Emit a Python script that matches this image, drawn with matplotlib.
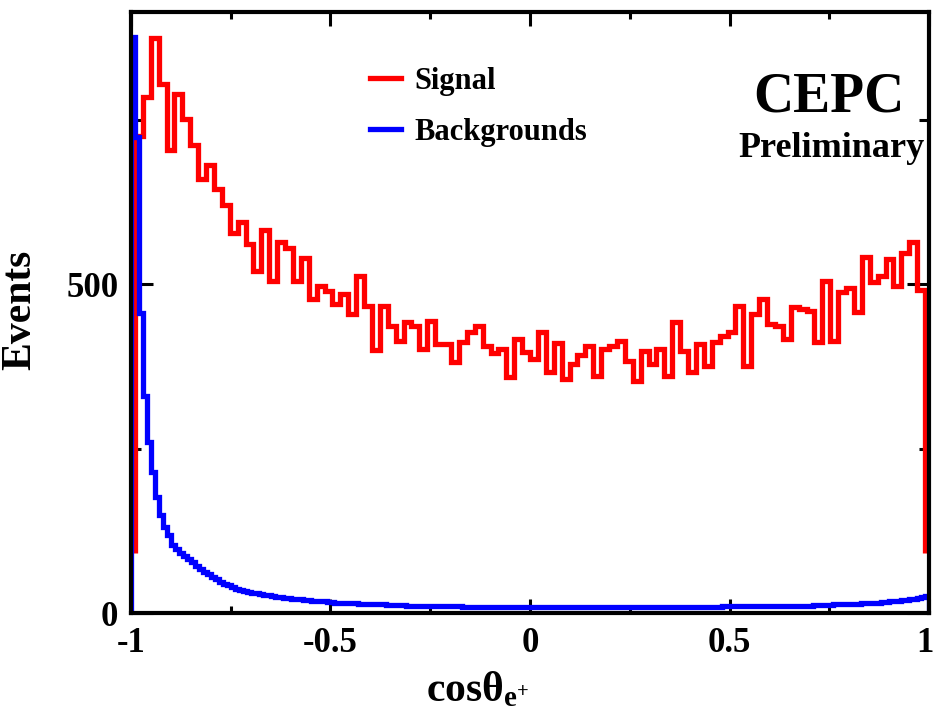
import matplotlib

matplotlib.use("Agg")
import matplotlib.pyplot as plt
import matplotlib.transforms as mtransforms
import numpy as np
from matplotlib.lines import Line2D
from matplotlib.ticker import MultipleLocator

plt.rcParams["font.family"] = ["Liberation Serif", "DejaVu Serif"]
plt.rcParams["font.weight"] = "bold"
plt.rcParams["mathtext.fontset"] = "custom"
plt.rcParams["mathtext.rm"] = "Liberation Serif:bold"
plt.rcParams["mathtext.it"] = "Liberation Serif:bold"
plt.rcParams["mathtext.bf"] = "Liberation Serif:bold"

# signal: 100 bins over [-0.99, 0.99]
SIGNAL_RANGE = (-0.99, 0.99)
SIGNAL_EDGE_FLOOR = 92
signal_counts = [
    725, 785, 875, 805, 705, 790, 752, 712, 660, 682,
    645, 620, 578, 595, 562, 520, 582, 505, 565, 555,
    505, 540, 478, 498, 490, 470, 485, 455, 512, 467,
    400, 467, 436, 414, 442, 437, 402, 444, 409, 409,
    382, 412, 427, 436, 406, 395, 402, 359, 417, 397,
    386, 427, 367, 410, 356, 379, 392, 406, 361, 402,
    406, 414, 384, 353, 398, 379, 402, 361, 442, 398,
    367, 409, 376, 412, 421, 427, 467, 376, 455, 477,
    439, 436, 417, 465, 462, 459, 412, 505, 414, 488,
    495, 458, 541, 503, 512, 538, 497, 548, 564, 492,
]

# backgrounds: 200 bins over [-1, 1]
BKG_RANGE = (-1.0, 1.0)
bkg_counts = [
    876, 724, 457, 330, 260, 215, 177, 149, 131, 118,
    104, 98, 92, 87, 82, 77, 72, 67, 63, 59,
    55, 51, 47, 44, 42, 40, 37, 35, 34, 32,
    31, 30, 29, 28, 27, 26, 25, 24, 23, 23,
    22, 21, 21, 20, 20, 19, 19, 18, 18, 17,
    17, 16, 16, 16, 15, 15, 15, 14, 14, 14,
    13, 13, 13, 13, 12, 12, 12, 12, 12, 11,
    11, 11, 11, 11, 11, 10, 10, 10, 10, 10,
    10, 10, 10, 9, 9, 9, 9, 9, 9, 9,
    9, 9, 9, 9, 9, 9, 9, 9, 9, 9,
    9, 9, 9, 9, 9, 9, 9, 9, 9, 9,
    9, 9, 9, 9, 9, 9, 9, 9, 9, 9,
    9, 9, 9, 9, 9, 9, 9, 9, 9, 9,
    9, 9, 9, 9, 9, 9, 9, 9, 9, 9,
    9, 9, 9, 9, 9, 9, 9, 9, 10, 10,
    10, 10, 10, 10, 10, 10, 10, 10, 10, 10,
    10, 10, 10, 10, 10, 11, 11, 11, 11, 11,
    11, 12, 12, 12, 12, 12, 13, 13, 13, 13,
    14, 14, 14, 15, 15, 15, 16, 16, 17, 17,
    18, 18, 19, 20, 20, 21, 22, 23, 24, 26,
]

X_MAJOR_TICKS = [-1, -0.5, 0, 0.5, 1]
X_TICK_LABELS = ["-1", "-0.5", "0", "0.5", "1"]
Y_MAJOR_TICKS = [0, 500]
Y_LIMIT = 915

fig = plt.figure(figsize=(9.35, 7.11), dpi=100)
ax = fig.add_axes([0.1401, 0.1378, 0.8535, 0.846])

sig_edges = np.linspace(SIGNAL_RANGE[0], SIGNAL_RANGE[1], len(signal_counts) + 1)
bkg_edges = np.linspace(BKG_RANGE[0], BKG_RANGE[1], len(bkg_counts) + 1)

ax.stairs(signal_counts, sig_edges, baseline=SIGNAL_EDGE_FLOOR,
          color="#ff0000", linewidth=3.8, zorder=2)
ax.stairs(bkg_counts, bkg_edges, baseline=0,
          color="#0000ff", linewidth=3.8, zorder=3)

ax.set_xlim(-1, 1)
ax.set_ylim(0, Y_LIMIT)

for side in ax.spines.values():
    side.set_linewidth(3.0)
    side.set_zorder(5)

ax.set_xticks(X_MAJOR_TICKS)
ax.set_xticklabels(X_TICK_LABELS)
ax.xaxis.set_minor_locator(MultipleLocator(0.25))
ax.set_yticks(Y_MAJOR_TICKS)
ax.set_yticklabels([str(v) for v in Y_MAJOR_TICKS])
ax.yaxis.set_minor_locator(MultipleLocator(250))

ax.tick_params(axis="both", which="both", direction="in", top=True, right=True,
               width=2.2, labelsize=25)
ax.tick_params(axis="x", which="major", length=10, pad=10)
ax.tick_params(axis="x", which="minor", length=5)
ax.tick_params(axis="y", which="major", length=16, pad=9)
ax.tick_params(axis="y", which="minor", length=7)

# keep the last x label inside the canvas
last_label = ax.get_xticklabels()[-1]
last_label.set_transform(last_label.get_transform()
                         + mtransforms.ScaledTranslation(-4 / 100, 0, fig.dpi_scale_trans))

handles = [
    Line2D([], [], color="#ff0000", linewidth=3.8),
    Line2D([], [], color="#0000ff", linewidth=3.8),
]
ax.legend(handles, ["Signal", "Backgrounds"], loc="upper left",
          bbox_to_anchor=(0.30, 0.908), frameon=False, fontsize=22,
          handlelength=1.0, handletextpad=0.45, labelspacing=0.71,
          borderpad=0, borderaxespad=0)

ax.text(0.875, 0.857, "CEPC", transform=ax.transAxes, ha="center",
        va="center", fontsize=40, fontweight="bold")
ax.text(0.878, 0.772, "Preliminary", transform=ax.transAxes, ha="center",
        va="center", fontsize=26, fontweight="bold")

fig.text(20 / 935, 1 - 310 / 711, "Events", rotation=90, ha="center",
         va="center", fontsize=30, fontweight="bold")
fig.text(478 / 935, 1 - 690 / 711, r"$\mathrm{cos}\theta_{\mathrm{e}^{+}}$",
         ha="center", va="center", fontsize=30)

fig.savefig("out.png", dpi=100)
